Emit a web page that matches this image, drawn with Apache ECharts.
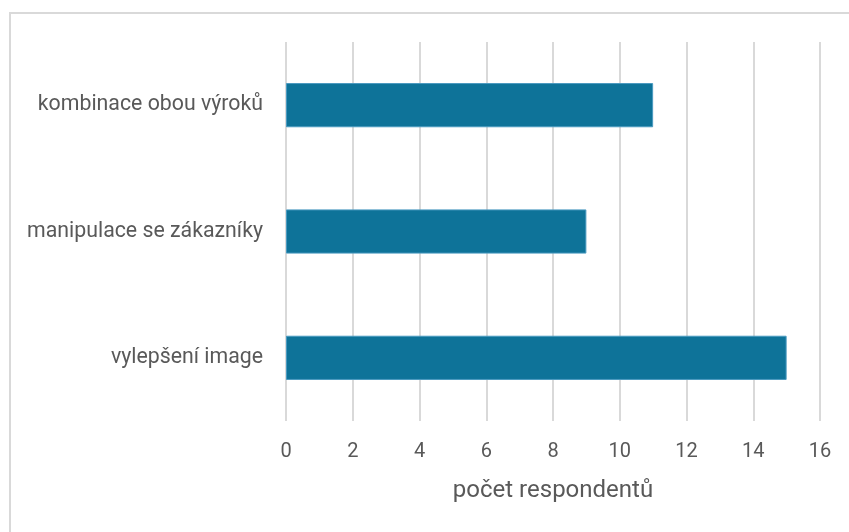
<!DOCTYPE html>
<html>
<head>
<meta charset="utf-8">
<script src="https://cdn.jsdelivr.net/npm/echarts@6/dist/echarts.min.js"></script>
<style>
  html, body { margin: 0; padding: 0; background: #fff; }
  #frame {
    position: absolute; left: 9px; top: 12px; width: 860px; height: 540px;
    border: 2px solid #d9d9d9; box-sizing: border-box;
  }
  #chart { width: 849px; height: 532px; position: absolute; left: 0; top: 0; }
</style>
</head>
<body>
<div id="frame"></div>
<div id="chart"></div>
<script>
const categories = ["vylepšení image", "manipulace se zákazníky", "kombinace obou výroků"];
const respondents = [15, 9, 11];

const chart = echarts.init(document.getElementById("chart"));
chart.setOption({
  animation: false,
  textStyle: { fontFamily: "Roboto, 'Noto Sans', sans-serif" },
  grid: { left: 286, right: 29, top: 42, bottom: 111 },
  xAxis: {
    type: "value",
    min: 0,
    max: 16,
    interval: 2,
    name: "počet respondentů",
    nameLocation: "middle",
    nameGap: 58,
    nameTextStyle: { color: "#595959", fontSize: 24 },
    axisLine: { show: false },
    axisTick: { show: false },
    axisLabel: { color: "#595959", fontSize: 20, margin: 21 },
    splitLine: { lineStyle: { color: "#d9d9d9", width: 2 } }
  },
  yAxis: {
    type: "category",
    data: categories,
    axisLine: { show: false },
    axisTick: { show: false },
    axisLabel: { color: "#595959", fontSize: 21.3, margin: 23 }
  },
  series: [{
    type: "bar",
    data: respondents,
    barCategoryGap: "65%",
    itemStyle: { color: "#0e7399", borderColor: "#4a9ac0", borderWidth: 1 }
  }]
});
</script>
</body>
</html>
